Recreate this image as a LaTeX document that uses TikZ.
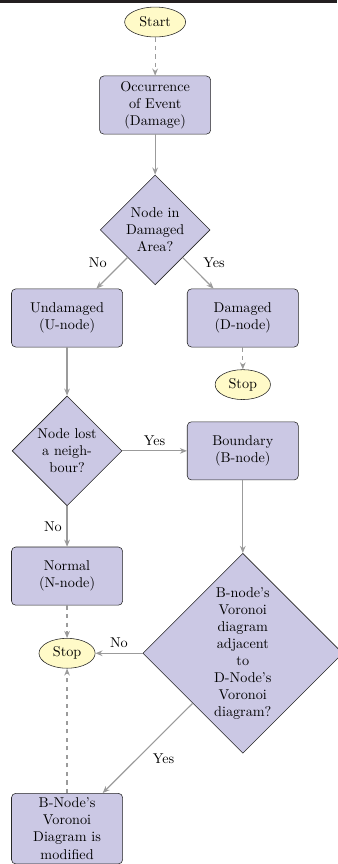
\documentclass[tikz,border=0pt]{standalone}
\usetikzlibrary{shapes.geometric,arrows.meta}

\definecolor{boxfill}{RGB}{203,200,228}
\definecolor{termfill}{RGB}{255,250,200}
\definecolor{linegray}{RGB}{155,155,155}
\definecolor{topbar}{RGB}{35,31,32}

\tikzset{
    box/.style={rectangle, rounded corners=3pt, draw=black!85, fill=boxfill, minimum width=2.75cm, minimum height=1.44cm, align=center},
    decision/.style={diamond, draw=black!85, fill=boxfill, aspect=1, inner sep=0pt, align=center},
    term/.style={ellipse, draw=black!85, fill=termfill, inner sep=0pt, minimum height=0.74cm},
    flow/.style={draw=linegray, thick, -{Stealth[length=5pt,width=4pt]}},
    flowdash/.style={flow, dashed}
}

\begin{document}
\begin{tikzpicture}
            \useasboundingbox (0,0) rectangle (8.342,-21.386);
            \fill [topbar] (0,0) rectangle (8.342,-0.08);

            \node [term, minimum width=1.51cm] (start) at (3.84,-0.545) {Start};
            \node [box] (occ) at (3.84,-2.60) {Occurrence\\ of Event\\ (Damage)};
            \node [decision, minimum width=2.72cm, minimum height=2.72cm] (area) at (3.84,-5.69) {Node in\\ Damaged\\ Area?};

            \node [box] (unode) at (1.66,-7.87) {Undamaged\\ (U-node)};
            \node [box] (dnode) at (6.01,-7.87) {Damaged\\ (D-node)};
            \node [term, minimum width=1.37cm] (stopd) at (6.01,-9.52) {Stop};

            \node [decision, minimum width=2.72cm, minimum height=2.72cm] (lost) at (1.66,-11.16) {Node lost\\ a neigh-\\ bour?};
            \node [box] (bnode) at (6.01,-11.16) {Boundary\\ (B-node)};
            \node [box] (nnode) at (1.66,-14.26) {Normal\\ (N-node)};

            \node [decision, minimum width=4.95cm, minimum height=4.95cm] (adj) at (6.01,-16.17) {B-node's\\ Voronoi\\ diagram\\ adjacent\\ to\\ D-Node's\\ Voronoi\\ diagram?};
            \node [term, minimum width=1.39cm] (stopn) at (1.66,-16.17) {Stop};
            \node [box] (modif) at (1.66,-20.51) {B-Node's\\ Voronoi\\ Diagram is\\ modified};

            \draw [flowdash] (start) -- (occ);
            \draw [flow] (occ) -- (area);
            \draw [flow] (area) -- node [above left] {No} (unode);
            \draw [flow] (area) -- node [above right] {Yes} (dnode);
            \draw [flowdash] (dnode) -- (stopd);

            \draw [flow] (unode) -- (lost);
            \draw [flow] (lost) -- node [above] {Yes} (bnode);
            \draw [flow] (lost) -- node [left] {No} (nnode);
            \draw [flow] (bnode) -- (adj);

            \draw [flowdash] (nnode) -- (stopn);
            \draw [flow] (adj) -- node [above] {No} (stopn);
            \draw [flow] (adj) -- node [below right] {Yes} (modif);
            \draw [flowdash] (modif) -- (stopn);
        \end{tikzpicture}
\end{document}
